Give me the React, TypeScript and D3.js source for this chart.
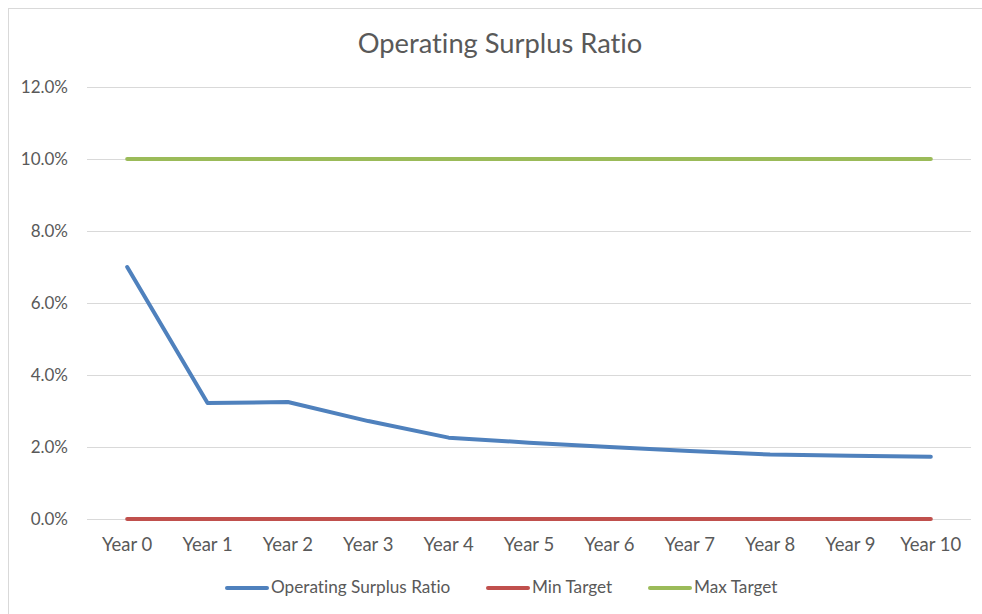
import React, { useRef, useEffect } from 'react';
import * as d3 from 'd3';

const years = ['Year 0', 'Year 1', 'Year 2', 'Year 3', 'Year 4', 'Year 5', 'Year 6', 'Year 7', 'Year 8', 'Year 9', 'Year 10'];
const surplusRatio = [7.0, 3.22, 3.25, 2.72, 2.26, 2.12, 2.0, 1.89, 1.79, 1.76, 1.73];
const minTarget = [0, 0, 0, 0, 0, 0, 0, 0, 0, 0, 0];
const maxTarget = [10, 10, 10, 10, 10, 10, 10, 10, 10, 10, 10];
const yTicks = [0, 2, 4, 6, 8, 10, 12];

const seriesList = [
  { name: 'Operating Surplus Ratio', values: surplusRatio, color: '#4f81bd' },
  { name: 'Min Target', values: minTarget, color: '#c0504d' },
  { name: 'Max Target', values: maxTarget, color: '#9bbb59' },
];

export default function App() {
  const ref = useRef<SVGSVGElement>(null);

  useEffect(() => {
    if (!ref.current) return;
    const svg = d3.select(ref.current);
    svg.selectAll('*').remove();
    const font = 'Lato, Carlito, Calibri, sans-serif';
    const textColor = '#595959';
    const noLiga = '"liga" 0, "clig" 0, "dlig" 0';

    // chart border
    svg.append('rect')
      .attr('x', 8.5).attr('y', 8.5)
      .attr('width', 1000).attr('height', 1000)
      .attr('fill', 'white').attr('stroke', '#d9d9d9');

    const x = d3.scaleBand().domain(years).range([87, 971]);
    const xc = (d: string) => (x(d) as number) + x.bandwidth() / 2;
    const y = d3.scaleLinear().domain([0, 12]).range([519, 87]);

    // gridlines
    svg.append('g')
      .selectAll('line')
      .data(yTicks)
      .enter()
      .append('line')
      .attr('x1', 87).attr('x2', 971)
      .attr('y1', d => Math.round(y(d)) + 0.5)
      .attr('y2', d => Math.round(y(d)) + 0.5)
      .attr('stroke', '#d9d9d9')
      .attr('stroke-width', 1);

    // y labels
    svg.append('g')
      .selectAll('text')
      .data(yTicks)
      .enter()
      .append('text')
      .attr('x', 68)
      .attr('y', d => y(d))
      .attr('dy', '0.35em')
      .attr('text-anchor', 'end')
      .attr('font-family', font)
      .attr('font-size', 17)
      .attr('fill', textColor)
      .text(d => d.toFixed(1) + '%');

    // x labels
    svg.append('g')
      .selectAll('text')
      .data(years)
      .enter()
      .append('text')
      .attr('x', d => xc(d))
      .attr('y', 551)
      .attr('text-anchor', 'middle')
      .attr('font-family', font)
      .attr('font-size', 18.5)
      .attr('fill', textColor)
      .text(d => d);

    // lines
    const line = d3.line<number>()
      .x((_, i) => xc(years[i]))
      .y(d => y(d));

    svg.append('g')
      .selectAll('path')
      .data(seriesList)
      .enter()
      .append('path')
      .attr('d', s => line(s.values))
      .attr('fill', 'none')
      .attr('stroke', s => s.color)
      .attr('stroke-width', 4)
      .attr('stroke-linecap', 'round')
      .attr('stroke-linejoin', 'round');

    // title
    svg.append('text')
      .attr('x', 500)
      .attr('y', 53)
      .attr('text-anchor', 'middle')
      .attr('font-family', font)
      .attr('font-size', 27.3)
      .style('font-feature-settings', noLiga)
      .attr('fill', textColor)
      .text('Operating Surplus Ratio');

    // legend
    const legendX = [225, 486, 648];
    const legend = svg.append('g')
      .selectAll('g')
      .data(seriesList)
      .enter()
      .append('g')
      .attr('transform', (_, i) => `translate(${legendX[i]},588)`);
    legend.append('line')
      .attr('x1', 2).attr('x2', 42)
      .attr('y1', 0).attr('y2', 0)
      .attr('stroke', s => s.color)
      .attr('stroke-width', 4)
      .attr('stroke-linecap', 'round');
    legend.append('text')
      .attr('x', 46)
      .attr('y', 5)
      .attr('font-family', font)
      .attr('font-size', 17.2)
      .style('font-feature-settings', noLiga)
      .attr('fill', textColor)
      .text(s => s.name);
  });

  return (
    <>
      <style>{'html,body{margin:0;overflow:hidden}'}</style>
      <svg ref={ref} width={982} height={614} style={{ display: 'block' }} />
    </>
  );
}
